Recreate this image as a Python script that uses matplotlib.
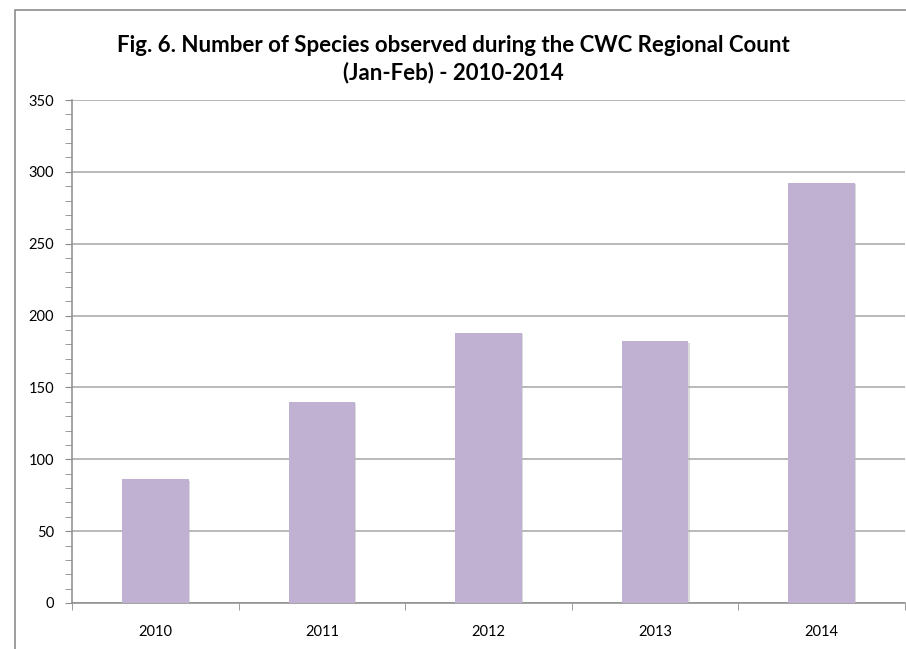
import matplotlib.pyplot as plt
import matplotlib.patheffects as pe
from matplotlib.patches import Rectangle
from matplotlib.ticker import MultipleLocator, FixedLocator

years = ["2010", "2011", "2012", "2013", "2014"]
species = [86, 140, 188, 182, 292]

fig = plt.figure(figsize=(9.06, 6.49), dpi=100)
ax = fig.add_axes([72/906, 1 - 603/649, 833/906, 503/649])

# outer chart frame
fig.patches.append(Rectangle((15/906, -0.1), 1.2, 1.1 - 10/649, transform=fig.transFigure,
                             fill=False, edgecolor="#8c8c8c", linewidth=1.2))

x = list(range(len(years)))
bars = ax.bar(x, species, width=0.4, color="#c0b1d3", zorder=3)
for b in bars:
    b.set_path_effects([pe.SimplePatchShadow(offset=(0.8, -0.8), shadow_rgbFace="#b0b0b0", alpha=0.45),
                        pe.Normal()])

ax.set_xlim(-0.5, len(years) - 0.5)
ax.set_ylim(0, 350)
ax.yaxis.set_major_locator(MultipleLocator(50))
ax.yaxis.set_minor_locator(MultipleLocator(10))
ax.grid(axis="y", color="#a6a6a6", linewidth=1.1, zorder=0)
ax.set_axisbelow(True)

ax.set_xticks(x)
ax.set_xticklabels(years)
ax.xaxis.set_minor_locator(FixedLocator([i - 0.5 for i in range(len(years) + 1)]))
ax.tick_params(axis="x", which="major", length=0, pad=16, labelsize=10.5)
ax.tick_params(axis="x", which="minor", length=5, color="#8c8c8c", direction="out")
ax.tick_params(axis="y", which="both", length=5, color="#8c8c8c", direction="out", labelsize=10.5, pad=8)

for s in ["top", "right"]:
    ax.spines[s].set_visible(False)
for s in ["left", "bottom"]:
    ax.spines[s].set_color("#8c8c8c")
    ax.spines[s].set_linewidth(1.1)

for lab in ax.get_xticklabels() + ax.get_yticklabels():
    lab.set_fontfamily("Lato")

fig.text(453/906, 1 - 59/649, "Fig. 6. Number of Species observed during the CWC Regional Count\n(Jan-Feb) - 2010-2014",
         ha="center", va="center", fontsize=16, fontweight="bold", family="Lato", linespacing=1.3)

fig.savefig("out.png", dpi=100)
